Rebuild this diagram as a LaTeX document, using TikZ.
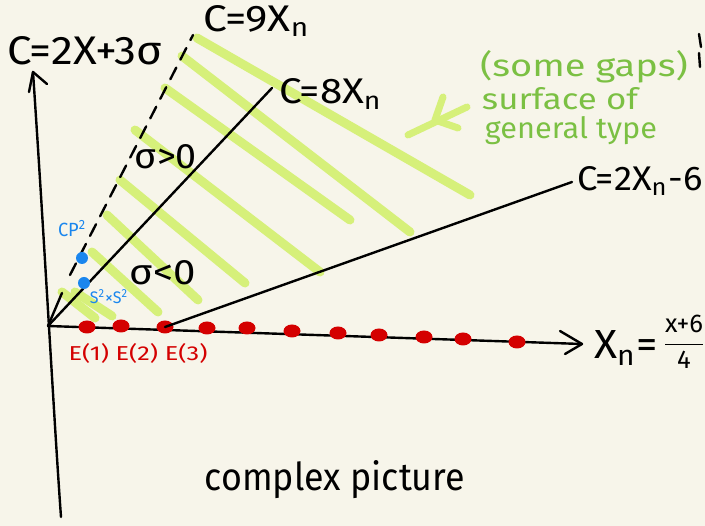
\documentclass[tikz,border=0pt]{standalone}
\usepackage{fontspec}
\setmainfont{Fira Sans}
\usepackage{graphicx}
\usetikzlibrary{shapes.geometric}
\definecolor{bg}{HTML}{F7F5EA}
\definecolor{hatch}{HTML}{D6F07A}
\definecolor{gtext}{HTML}{7BC043}
\definecolor{bluept}{HTML}{1A86EE}
\definecolor{redpt}{HTML}{D40000}
\newcommand\fitwh[3]{\resizebox{#1pt}{#2pt}{#3}}
\begin{document}
\begin{tikzpicture}[x=1pt,y=-1pt,line cap=round,line join=round,
  ink/.style={line width=2.4pt,black},
  hatchline/.style={line width=9pt,hatch,line cap=round},
  reddot/.style={ellipse,fill=redpt,draw=none,minimum width=17pt,minimum height=13pt,inner sep=0pt},
  bluedot/.style={circle,fill=bluept,draw=none,minimum size=12pt,inner sep=0pt},
  lbl/.style={inner sep=0pt,outer sep=0pt}]
\fill[bg] (0,0) rectangle (705,526);
\useasboundingbox (0,0) rectangle (705,526);

% coordinates
\coordinate (O) at (48,326);
\coordinate (vbot) at (61,517);
\coordinate (vtop) at (33,72);
\coordinate (hend) at (582,344);
\coordinate (nine0) at (70,275);
\coordinate (nine1) at (193,35);
\coordinate (eight1) at (272,88);
\coordinate (two1) at (572,182);

% hatch strokes
\draw[hatchline] (197,38) -- (470,195);
\draw[hatchline] (182,56) -- (410,232);
\draw[hatchline] (165,88) -- (350,220);
\draw[hatchline] (135,130) -- (320,272);
\draw[hatchline] (120,180) -- (245,283);
\draw[hatchline] (107,215) -- (198,300);
\draw[hatchline] (92,252) -- (158,312);
\draw[hatchline] (62,292) -- (95,318);
\draw[hatchline] (75,292) -- (112,316);

% green arrow
\coordinate (ga0) at (408,135);
\coordinate (ga1) at (467,107);
\draw[hatchline,line width=7pt] (ga0) -- (ga1);
\draw[hatchline,line width=7pt] (443,97) -- (435,120) -- (458,128);

% axes
\draw[ink] (vbot) .. controls (54,420) and (45,250) .. (vtop);
\draw[ink] (29,92) -- (vtop) -- (47,84);
\draw[ink] (O) -- (hend);
\draw[ink] (560,331) -- (hend) -- (565,354);

% lines
\draw[ink,dash pattern=on 13pt off 9pt] (nine0) -- (nine1);
\draw[ink] (O) -- (eight1);
\draw[ink] (62,293) -- (O);

% red dots
\node[reddot] (e1) at (87,327) {};
\node[reddot] (e2) at (121,326) {};
\node[reddot] (e3) at (165,327) {};
\node[reddot] (d4) at (207,328) {};
\node[reddot] (d5) at (247,328) {};
\node[reddot] (d6) at (292,331) {};
\node[reddot] (d7) at (338,333) {};
\node[reddot] (d8) at (379,335) {};
\node[reddot] (d9) at (424,337) {};
\node[reddot] (d10) at (463,339) {};
\node[reddot] (d11) at (517,342) {};
\draw[ink] (e3.center) -- (two1);

% blue dots
\node[bluedot] (cp) at (82,258) {};
\node[bluedot] (ss) at (84,283) {};

% black labels
\node[lbl] (lC) at (85,51) {\fitwh{155}{28}{C=2X+3σ}};
\node[lbl] (l9) at (257,21) {\fitwh{107}{26}{C=9X\textsubscript{n}}};
\node[lbl] (l8) at (331,94) {\fitwh{103}{25}{C=8X\textsubscript{n}}};
\node[lbl] (l2) at (640,181) {\fitwh{125}{24}{C=2X\textsubscript{n}-6}};
\node[lbl] (lx) at (626,348) {\fitwh{64}{28}{X\textsubscript{n}=}};
\node[lbl] (lf) at (684,344) {\resizebox{38pt}{!}{\begin{tabular}{@{}c@{}}x+6\\[1pt]\hline\rule{0pt}{9pt}4\end{tabular}}};
\node[lbl] (gp) at (166,157) {\fitwh{62}{24}{σ>0}};
\node[lbl] (gn) at (163,273) {\fitwh{66}{24}{σ<0}};
\node[lbl] (cpx) at (335,480) {\fitwh{260}{30}{complex picture}};
\draw[ink] (699,34) -- (701,47);
\draw[ink] (699,53) -- (700,67);

% red labels
\node[lbl,text=redpt] (le) at (138,353) {\fitwh{139}{17}{E(1) E(2) E(3)}};

% blue labels
\node[lbl,text=bluept] (lcp) at (72,229) {\fitwh{28}{16}{CP\textsuperscript{2}}};
\node[lbl,text=bluept] (lss) at (109,297) {\fitwh{38}{14}{S\textsuperscript{2}×S\textsuperscript{2}}};

% green labels
\node[lbl,text=gtext] (g1) at (584,67) {\fitwh{208}{26}{(some gaps)}};
\node[lbl,text=gtext] (g2) at (560,99) {\fitwh{156}{22}{surface of}};
\node[lbl,text=gtext] (g3) at (571,131) {\fitwh{172}{22}{general type}};
\end{tikzpicture}
\end{document}
